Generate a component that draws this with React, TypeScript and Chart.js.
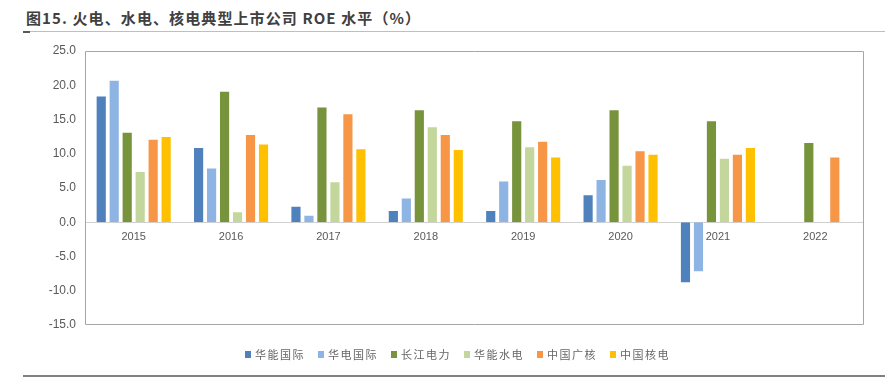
import React, { useEffect, useRef } from "react";
import { Chart, registerables } from "chart.js";

Chart.register(...registerables);

const categories = ["2015", "2016", "2017", "2018", "2019", "2020", "2021", "2022"];
const seriesNames = ["华能国际", "华电国际", "长江电力", "华能水电", "中国广核", "中国核电"];
const huanengIntl = [18.5, 11.0, 2.4, 1.8, 1.8, 4.1, -8.9, null];
const huadianIntl = [20.8, 8.0, 1.1, 3.6, 6.1, 6.3, -7.3, null];
const yangtzePower = [13.2, 19.2, 16.9, 16.5, 14.9, 16.5, 14.9, 11.7];
const huanengHydro = [7.5, 1.6, 6.0, 14.0, 11.1, 8.4, 9.4, null];
const cgnPower = [12.2, 12.9, 15.9, 12.9, 11.9, 10.5, 10.0, 9.6];
const cnnpPower = [12.6, 11.5, 10.8, 10.7, 9.6, 10.0, 11.0, null];
const seriesValues = [huanengIntl, huadianIntl, yangtzePower, huanengHydro, cgnPower, cnnpPower];
const seriesColors = ["#4F81BD", "#8EB4E3", "#77933C", "#C3D69B", "#F79646", "#FFC000"];
const yMin = -15;
const yMax = 25;
const yStep = 5;

const titleText = "图15. 火电、水电、核电典型上市公司 ROE 水平（%）";

const framePlugin = {
  id: "frame",
  beforeDatasetsDraw(chart: any) {
    const { ctx, chartArea } = chart;
    const { left, top, right, bottom } = chartArea;
    const y0 = Math.round(chart.scales.y.getPixelForValue(0)) + 0.5;
    ctx.save();
    ctx.lineWidth = 1;
    ctx.strokeStyle = "#D0D0D0";
    ctx.beginPath();
    ctx.moveTo(left, y0);
    ctx.lineTo(right, y0);
    ctx.stroke();
    ctx.strokeStyle = "#A6A6A6";
    ctx.beginPath();
    ctx.moveTo(Math.round(left) + 0.5, Math.round(top) + 0.5);
    ctx.lineTo(Math.round(right) - 0.5, Math.round(top) + 0.5);
    ctx.lineTo(Math.round(right) - 0.5, Math.round(bottom) - 0.5);
    ctx.lineTo(Math.round(left) + 0.5, Math.round(bottom) - 0.5);
    ctx.closePath();
    ctx.stroke();
    ctx.restore();
  },
};

export default function App() {
  const canvasRef = useRef<HTMLCanvasElement | null>(null);

  useEffect(() => {
    if (!canvasRef.current) return;
    const chart = new Chart(canvasRef.current, {
      type: "bar",
      data: {
        labels: categories,
        datasets: seriesNames.map((name, i) => ({
          label: name,
          data: seriesValues[i],
          backgroundColor: seriesColors[i],
          borderColor: "rgba(255,255,255,0.55)",
          borderWidth: 1,
          barPercentage: 0.86,
          categoryPercentage: 0.8,
        })),
      },
      options: {
        animation: false,
        responsive: false,
        maintainAspectRatio: false,
        layout: { padding: { top: 51, right: 21, bottom: 53, left: 0 } },
        plugins: {
          legend: { display: false },
          tooltip: { enabled: false },
          title: { display: false },
        },
        scales: {
          x: {
            position: { y: 0 } as any,
            grid: { display: false, drawTicks: false },
            border: { display: false },
            ticks: {
              padding: 8,
              color: "#595959",
              font: { family: "'Liberation Sans', Arial, sans-serif", size: 11 },
            },
          },
          y: {
            min: yMin,
            max: yMax,
            grid: { display: false, drawTicks: false },
            border: { display: false },
            ticks: {
              stepSize: yStep,
              padding: 9,
              color: "#595959",
              font: { family: "'Liberation Sans', Arial, sans-serif", size: 12 },
              callback: (v: any) => Number(v).toFixed(1),
            },
            afterFit: (s: any) => {
              s.width = 85;
            },
          },
        },
      },
      plugins: [framePlugin],
    });
    return () => chart.destroy();
  }, []);

  return (
    <div
      style={{
        position: "fixed",
        left: 0,
        top: 0,
        width: 885,
        height: 378,
        background: "#FFFFFF",
        overflow: "hidden",
      }}
    >
      <div
        style={{
          position: "absolute",
          left: 26,
          top: 8,
          fontFamily: "'Noto Sans CJK SC', 'Noto Sans', sans-serif",
          fontWeight: 700,
          fontSize: 15,
          letterSpacing: 1.1,
          lineHeight: "20px",
          color: "#404040",
          whiteSpace: "nowrap",
        }}
      >
        {titleText}
      </div>
      <div style={{ position: "absolute", left: 23, top: 31, width: 862, height: 1, background: "#BFBFBF" }} />
      <div style={{ position: "absolute", left: 23, top: 31, width: 7, height: 2, background: "#595959" }} />
      <canvas ref={canvasRef} width={885} height={378} style={{ position: "absolute", left: 0, top: 0 }} />
      <div
        style={{
          position: "absolute",
          left: 245,
          top: 345,
          display: "flex",
          gap: 13,
          fontFamily: "'Noto Sans CJK SC', sans-serif",
          fontSize: 11,
          letterSpacing: 1.5,
          color: "#666666",
          lineHeight: "18px",
          whiteSpace: "nowrap",
        }}
      >
        {seriesNames.map((name, i) => (
          <div key={name} style={{ display: "flex", alignItems: "center" }}>
            <span
              style={{
                display: "inline-block",
                width: 6,
                height: 7,
                background: seriesColors[i],
                marginRight: 4,
              }}
            />
            <span>{name}</span>
          </div>
        ))}
      </div>
      <div style={{ position: "absolute", left: 23, top: 375, width: 862, height: 2, background: "#808080" }} />
    </div>
  );
}
